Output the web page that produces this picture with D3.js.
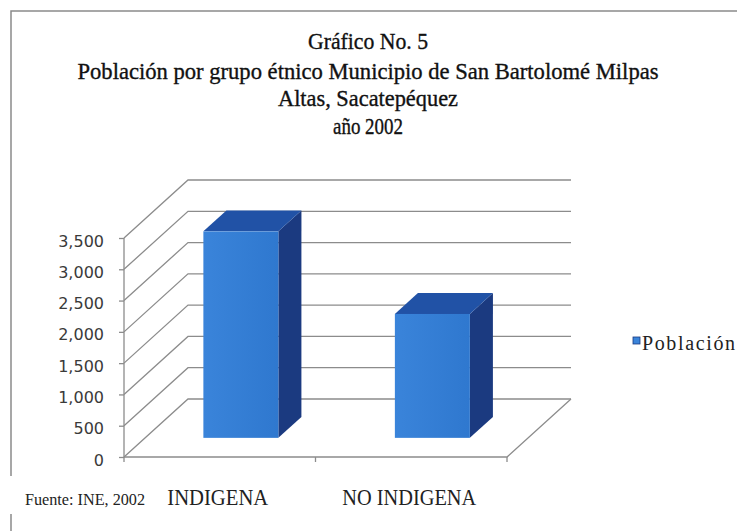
<!DOCTYPE html>
<html>
<head>
<meta charset="utf-8">
<script src="https://cdn.jsdelivr.net/npm/d3@7"></script>
<style>
  body { margin: 0; background: #fff; }
  svg { display: block; }
</style>
</head>
<body>
<div id="chart"></div>
<script>
// Chart data
const categories = ["INDIGENA", "NO INDIGENA"];
const poblacion = [3300, 1980];
const yTicks = [0, 500, 1000, 1500, 2000, 2500, 3000, 3500];
const titleLines = [
    "Gráfico No. 5",
    "Población por grupo étnico Municipio de  San Bartolomé Milpas",
    "Altas, Sacatepéquez",
    "año 2002"
];
const seriesName = "Población";
const sourceNote = "Fuente: INE, 2002";

const width = 737;
const height = 531;
const serif = "'Liberation Serif', 'Times New Roman', serif";

// 3D-ish frame: front plane plus a depth offset
const front = { left: 124, right: 507, bottom: 457, top: 238 };
const depth = { dx: 64, dy: -58 };

const svg = d3.select("#chart").append("svg")
    .attr("width", width)
    .attr("height", height);

svg.append("rect").attr("width", width).attr("height", height).attr("fill", "#fff");

// outer frame (only top and left edges show in the picture)
svg.append("path")
    .attr("d", `M11,${height}V11H${width}`)
    .attr("fill", "none")
    .attr("stroke", "#8a8a8a")
    .attr("stroke-width", 1.5);

const x = d3.scaleBand()
    .domain(categories)
    .range([front.left, front.right]);

const y = d3.scaleLinear()
    .domain([0, 3500])
    .range([front.bottom, front.top]);

const grid = "#8c8c8c";

// side wall diagonals + back wall gridlines
const walls = svg.append("g").attr("stroke", grid).attr("stroke-width", 1.3).attr("fill", "none");
yTicks.forEach(v => {
    walls.append("path")
        .attr("d", `M${front.left},${y(v)}l${depth.dx},${depth.dy}H${front.right + depth.dx}`);
});

// floor right edge and front axis line
walls.append("path")
    .attr("d", `M${front.left},${front.bottom}H${front.right}l${depth.dx},${depth.dy}`);
walls.append("line")
    .attr("x1", front.left).attr("x2", front.left)
    .attr("y1", y(0)).attr("y2", y(3500));

// y axis ticks and labels
const yAxis = d3.axisLeft(y)
    .tickValues(yTicks)
    .tickSize(5)
    .tickPadding(15)
    .tickFormat(d3.format(","));

const yg = svg.append("g")
    .attr("transform", `translate(${front.left},0)`)
    .call(yAxis);
yg.select(".domain").remove();
yg.selectAll(".tick line").attr("stroke", grid).attr("stroke-width", 1.3);
yg.selectAll(".tick text")
    .attr("dy", "0.5em")
    .attr("font-family", "'DejaVu Sans', Verdana, sans-serif")
    .attr("font-size", 16)
    .attr("fill", "#3a3a3a");

// x axis category ticks
const catTicks = [front.left, (front.left + front.right) / 2, front.right];
svg.append("g").selectAll("line")
    .data(catTicks)
    .enter().append("line")
    .attr("x1", d => d).attr("x2", d => d)
    .attr("y1", front.bottom).attr("y2", front.bottom + 5)
    .attr("stroke", grid).attr("stroke-width", 1.3);

// bars as boxes
const defs = svg.append("defs");
const grad = defs.append("linearGradient").attr("id", "frontFace")
    .attr("x1", "0%").attr("x2", "100%");
grad.append("stop").attr("offset", "0%").attr("stop-color", "#3a84da");
grad.append("stop").attr("offset", "100%").attr("stop-color", "#2f78cf");

const barW = 75;
const f1 = 0.33, f2 = 0.69;   // depth position of bar front and back faces
const ox = depth.dx * f1, oy = depth.dy * f1;
const bx = depth.dx * (f2 - f1), by = depth.dy * (f2 - f1);

const bars = svg.append("g").selectAll("g")
    .data(categories.map((c, i) => ({ cat: c, value: poblacion[i] })))
    .enter().append("g");

bars.append("path")   // right side
    .attr("fill", "#1b3a80")
    .attr("d", d => {
        const xr = x(d.cat) + x.bandwidth() / 2 + barW / 2 + ox;
        const yt = y(d.value) + oy, yb = y(0) + oy;
        return `M${xr},${yb}V${yt}l${bx},${by}V${yb + by}Z`;
    });

bars.append("path")   // top
    .attr("fill", "#2152a6")
    .attr("d", d => {
        const xl = x(d.cat) + x.bandwidth() / 2 - barW / 2 + ox;
        const yt = y(d.value) + oy;
        return `M${xl},${yt}l${bx},${by}h${barW}l${-bx},${-by}Z`;
    });

bars.append("rect")   // front
    .attr("fill", "url(#frontFace)")
    .attr("x", d => x(d.cat) + x.bandwidth() / 2 - barW / 2 + ox)
    .attr("y", d => y(d.value) + oy)
    .attr("width", barW)
    .attr("height", d => y(0) - y(d.value));

// category labels
const catW = [101, 134];
svg.append("g").selectAll("text")
    .data(categories)
    .enter().append("text")
    .attr("x", d => x(d) + x.bandwidth() / 2 - 2)
    .attr("y", 505)
    .attr("text-anchor", "middle")
    .attr("font-family", serif)
    .attr("font-size", 23)
    .attr("fill", "#222")
    .attr("textLength", (d, i) => catW[i])
    .attr("lengthAdjust", "spacingAndGlyphs")
    .text(d => d);

// title
const titleY = [49, 79, 106, 134];
const titleW = [120, 581, 180, 70];
svg.append("g").selectAll("text")
    .data(titleLines)
    .enter().append("text")
    .attr("x", 368)
    .attr("y", (d, i) => titleY[i])
    .attr("text-anchor", "middle")
    .attr("font-family", serif)
    .attr("font-size", 23)
    .attr("fill", "#111")
    .attr("stroke", "#111")
    .attr("stroke-width", 0.35)
    .attr("textLength", (d, i) => titleW[i])
    .attr("lengthAdjust", "spacingAndGlyphs")
    .text(d => d);

// legend
const legend = svg.append("g").attr("transform", "translate(633,337)");
legend.append("rect")
    .attr("width", 7).attr("height", 7)
    .attr("fill", "#3a84da").attr("stroke", "#1b3a80").attr("stroke-width", 0.8);
legend.append("text")
    .attr("x", 9).attr("y", 13)
    .attr("font-family", serif)
    .attr("font-size", 20)
    .attr("fill", "#222")
    .attr("textLength", 93)
    .attr("lengthAdjust", "spacing")
    .text(seriesName);

// source note, sitting on a white box over the frame
svg.append("rect").attr("x", 6).attr("y", 476).attr("width", 144).attr("height", 38).attr("fill", "#fff");
svg.append("text")
    .attr("x", 25).attr("y", 505)
    .attr("font-family", serif)
    .attr("font-size", 16)
    .attr("fill", "#222")
    .attr("textLength", 120)
    .attr("lengthAdjust", "spacingAndGlyphs")
    .text(sourceNote);
</script>
</body>
</html>
